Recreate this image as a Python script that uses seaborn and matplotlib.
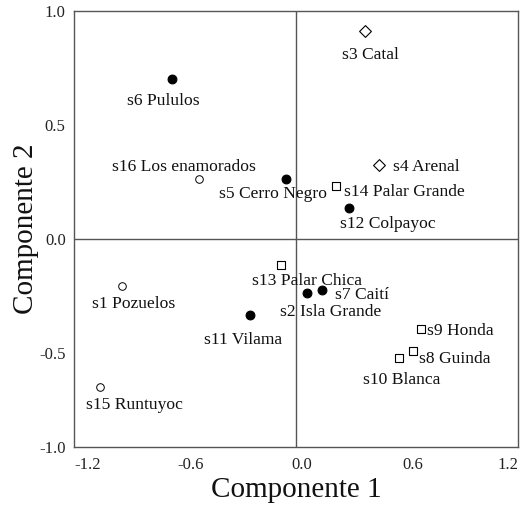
import matplotlib
matplotlib.use("Agg")
import matplotlib.pyplot as plt
import matplotlib.transforms as mtransforms
import seaborn as sns
import pandas as pd

# Site scores on the first two components
sites = ["s1 Pozuelos", "s2 Isla Grande", "s3 Catal", "s4 Arenal", "s5 Cerro Negro",
         "s6 Pululos", "s7 Caití", "s8 Guinda", "s9 Honda", "s10 Blanca",
         "s11 Vilama", "s12 Colpayoc", "s13 Palar Chica", "s14 Palar Grande",
         "s15 Runtuyoc", "s16 Los enamorados"]
comp1 = [-0.942, 0.061, 0.373, 0.449, -0.056,
         -0.672, 0.141, 0.634, 0.676, 0.558,
         -0.250, 0.288, -0.083, 0.214,
         -1.061, -0.523]
comp2 = [-0.206, -0.238, 0.912, 0.325, 0.263,
         0.702, -0.225, -0.490, -0.396, -0.521,
         -0.333, 0.137, -0.114, 0.234,
         -0.648, 0.263]
group = ["open_circle", "filled_circle", "diamond", "diamond", "filled_circle",
         "filled_circle", "filled_circle", "square", "square", "square",
         "filled_circle", "filled_circle", "square", "square",
         "open_circle", "open_circle"]

x_ticks = [-1.2, -0.6, 0.0, 0.6, 1.2]
x_tick_labels = ["-1.2", "-0.6", "0.0", "0.6", "1.2"]
y_ticks = [-0.912, -0.5, 0.0, 0.5, 1.0]
y_tick_labels = ["-1.0", "-0.5", "0.0", "0.5", "1.0"]

df = pd.DataFrame({"site": sites, "c1": comp1, "c2": comp2, "group": group})

sns.set_theme(style="white")
plt.rcParams["font.family"] = ["Liberation Serif", "DejaVu Serif"]

fig = plt.figure(figsize=(5.24, 5.05), dpi=100)
ax = fig.add_axes([0.1412, 0.1149, 0.8473, 0.8634])

line_col = "#555555"
ax.axvline(0, color=line_col, lw=1.0, zorder=1)
ax.axhline(0, color=line_col, lw=1.0, zorder=1)

marker_styles = {
    "filled_circle": dict(marker="o", s=40, facecolor="black", edgecolor="black", linewidth=0.8),
    "open_circle": dict(marker="o", s=30, facecolor="white", edgecolor="black", linewidth=0.7),
    "square": dict(marker="s", s=36, facecolor="white", edgecolor="black", linewidth=0.8),
    "diamond": dict(marker="D", s=36, facecolor="white", edgecolor="black", linewidth=0.8),
}
for g, style in marker_styles.items():
    sub = df[df["group"] == g]
    sns.scatterplot(data=sub, x="c1", y="c2", ax=ax, zorder=3, legend=False, **style)

# label placement: (dx, dy) in pixels from the point, horizontal alignment
label_pos = {
    "s3 Catal": (5, -22, "center"),
    "s6 Pululos": (-8, -20, "center"),
    "s16 Los enamorados": (-15, 14, "center"),
    "s5 Cerro Negro": (-13, -13, "center"),
    "s4 Arenal": (14, 0, "left"),
    "s14 Palar Grande": (8, -4, "left"),
    "s12 Colpayoc": (-9, -14, "left"),
    "s13 Palar Chica": (-29, -14, "left"),
    "s1 Pozuelos": (-30, -16, "left"),
    "s7 Caití": (13, -3, "left"),
    "s2 Isla Grande": (-27, -17, "left"),
    "s11 Vilama": (-46, -23, "left"),
    "s9 Honda": (6, 0, "left"),
    "s8 Guinda": (6, -6, "left"),
    "s10 Blanca": (-36, -20, "left"),
    "s15 Runtuyoc": (-14, -16, "left"),
}
for name, x, y in zip(sites, comp1, comp2):
    dx, dy, ha = label_pos[name]
    ax.annotate(name, (x, y), xytext=(dx, dy), textcoords="offset pixels",
                ha=ha, va="center_baseline", fontsize=12.6, color="#111111", zorder=4)

ax.set_xlim(-1.2, 1.2)
ax.set_ylim(y_ticks[0], 1.0)
ax.set_xticks(x_ticks)
ax.set_xticklabels(x_tick_labels)
ax.set_yticks(y_ticks)
ax.set_yticklabels(y_tick_labels)
ax.tick_params(axis="both", length=0, labelsize=12, colors="#222222")
ax.tick_params(axis="x", pad=7)
ax.tick_params(axis="y", pad=6)

labels = ax.get_xticklabels()
labels[0].set_ha("left")
labels[-1].set_ha("right")
shift = mtransforms.ScaledTranslation(6 / 100, 0, fig.dpi_scale_trans)
for lab in labels[1:-1]:
    lab.set_transform(lab.get_transform() + shift)

for sp in ax.spines.values():
    sp.set_color(line_col)
    sp.set_linewidth(1.0)
    sp.set_visible(True)

ax.set_xlabel("Componente 1", fontsize=21, color="#111111", labelpad=3)
ax.set_ylabel("Componente 2", fontsize=21, color="#111111", labelpad=0)

fig.savefig("out.png", dpi=100)
